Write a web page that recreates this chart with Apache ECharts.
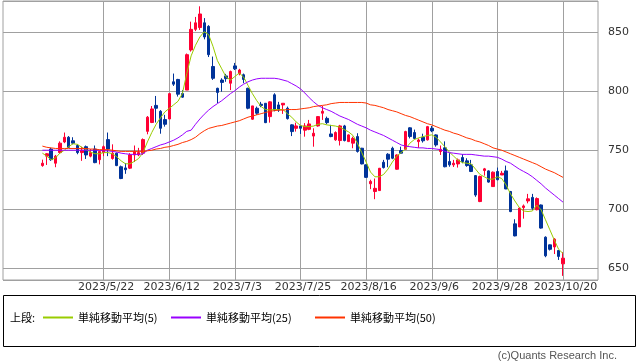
<!DOCTYPE html>
<html><head><meta charset="utf-8">
<script src="https://cdn.jsdelivr.net/npm/echarts@6/dist/echarts.min.js"></script>
<style>html,body{margin:0;padding:0;background:#fff}#c{width:638px;height:362px}</style>
</head><body><div id="c"></div>
<script>
const dates = ['2023/4/27','2023/4/28','2023/5/1','2023/5/2','2023/5/8','2023/5/9','2023/5/10','2023/5/11','2023/5/12','2023/5/15',
'2023/5/16','2023/5/17','2023/5/18','2023/5/19','2023/5/22','2023/5/23','2023/5/24','2023/5/25','2023/5/26','2023/5/29',
'2023/5/30','2023/5/31','2023/6/1','2023/6/2','2023/6/5','2023/6/6','2023/6/7','2023/6/8','2023/6/9','2023/6/12',
'2023/6/13','2023/6/14','2023/6/15','2023/6/16','2023/6/19','2023/6/20','2023/6/21','2023/6/22','2023/6/23','2023/6/26',
'2023/6/27','2023/6/28','2023/6/29','2023/6/30','2023/7/3','2023/7/4','2023/7/5','2023/7/6','2023/7/7','2023/7/10',
'2023/7/11','2023/7/12','2023/7/13','2023/7/14','2023/7/18','2023/7/19','2023/7/20','2023/7/21','2023/7/24','2023/7/25',
'2023/7/26','2023/7/27','2023/7/28','2023/7/31','2023/8/1','2023/8/2','2023/8/3','2023/8/4','2023/8/7','2023/8/8',
'2023/8/9','2023/8/10','2023/8/14','2023/8/15','2023/8/16','2023/8/17','2023/8/18','2023/8/21','2023/8/22','2023/8/23',
'2023/8/24','2023/8/25','2023/8/28','2023/8/29','2023/8/30','2023/8/31','2023/9/1','2023/9/4','2023/9/5','2023/9/6',
'2023/9/7','2023/9/8','2023/9/11','2023/9/12','2023/9/13','2023/9/14','2023/9/15','2023/9/19','2023/9/20','2023/9/21',
'2023/9/22','2023/9/25','2023/9/26','2023/9/27','2023/9/28','2023/9/29','2023/10/2','2023/10/3','2023/10/4','2023/10/5',
'2023/10/6','2023/10/10','2023/10/11','2023/10/12','2023/10/13','2023/10/16','2023/10/17','2023/10/18','2023/10/19','2023/10/20'];

const open = [737,745,751,739,748,757,761,758,754,748,
753,745,751,742,748,759,743,747.5,736,735,
734.8,746,746,747.5,766,773.5,788,783,776,776.5,
808,810,798,801,835,852.5,854,858,855,821,
802.5,809.5,813,806.8,821.5,814.7,814,802.5,776.3,785.6,
789,789.8,778.5,797,788.4,788.4,785.6,771.5,768.6,770.6,
767,767.7,762,770.6,781.4,777,763.8,758.8,758.2,770.6,
757.3,756,761.6,751.7,737.6,721.6,715,715.8,739.8,746.6,
751.7,733.9,749.7,750.8,769,765,757.3,761,758.8,768.6,
763,748.9,752,740.4,737.6,738.4,743.8,741,737.6,728.5,
706.5,732.8,732.5,719.2,732,729,732.5,715,687.6,685,
701.4,707,710,699.6,703.6,676.3,669.8,668,665,653.7];

const close = [739,747,742,745,756,761,752.5,756,748,750,
746,748,739.5,749,753,751,747.5,737,726,733.5,
746,749,748,759,778,785,785.6,768.6,772,798,
806,797.5,795,831,852.5,858,865.5,846,831,811,
799,807.5,810.7,816.7,819,818,810,785.6,787.6,781.4,
788,773.4,791,784,784,789.8,776.8,765.8,770.6,768.6,
770.6,772.3,764.4,778.5,783,773.4,761.6,765,770.6,758.2,
763,760,749,738.4,727,723.6,717.7,734.7,735.3,742.4,
743.2,746,747.5,765.8,761.6,760,758.7,758,770,766.4,
754.5,750.8,736,737.6,739,741.8,740.4,737,732,712,
727.7,734.2,723,731.4,725,730.5,717.2,698,677.4,701,
702.8,708.8,700.8,709,684,660.5,666,674.6,660,658.5];

const low = [736,737.5,741,735.6,747,756,752,755,746.6,741,
742.6,744,739,738,745,745,742,736.5,725.5,730,
734,740,745,746,763.5,773,773.5,764,770,776.5,
804.5,795.5,794.5,801,833.6,851,852,844,829,809.6,
790,799.6,808,801,818,813.5,806.8,784.7,775.7,780,
786.5,773,773.4,783,782.5,780.8,776,762,765.8,763.8,
761.5,767,753,770,775.7,772,761,758,754,757.5,
757,751.7,748,738,726.5,717,708.5,715.5,734.5,735.6,
742.4,733.5,747,750.8,760,759.3,752,756.5,758.2,765.3,
753,746,735.5,736,735.8,735.3,739,736,731.5,710.5,
706,728.5,722.5,719,724.5,729,717,697.5,677,685,
692,705,699.5,699,683.5,659.3,665,662,657,643.5];

const high = [742,747.5,752,746,757.5,765,762,761,755,753,
754,751,754,749.5,754,765,755,748,737,739,
747.5,754,752,760,779,787.5,796,784,780,798,
815,810.5,801,832,859,863,872,862,856,829.4,
803,811,814.7,817.5,824,819,815,803,787.6,787,
791,790,791.5,798.3,791,790,787,772,773.4,771,
773,775.7,768.6,779,787.6,778.5,771.5,766,771.5,771.5,
763.5,761.5,764.4,752,738,725,726,735,741.8,747.5,
753,746.5,753,766.5,769.5,767.5,760,764,770.6,770.6,
763.5,754,757.5,747.5,741.8,743,746.6,743.2,741.8,729,
728.5,735,733,732,735.3,732.5,737,715.5,691.5,701.5,
704,713,713,710,704,677,670,675.5,665.5,663.6];

const ma5 = [747.5,745,742,743.5,747.5,750,753,755.5,755,752.5,
750.5,748.5,747,747,748,748,747,744.5,741,738.5,
738.5,740.5,743,748,757,765,772,777.5,782.5,785.5,
788.5,791.5,798,815,830,839,846,850.5,848,838,
826,819,812,809.5,812.5,815.5,812,805,798,792,
787,784.5,784,784.5,784.5,784.5,781,778,774,771,
770,770,770.5,772,772.5,771.5,771,770.5,769.5,767.5,
765.5,762.5,756,748,740,731.5,727.5,727.5,729.5,734,
740,745,748,751,756,759,760.5,761.5,762.5,763,
761,757,753,748.5,745,741.5,739.5,739,738.5,734,
729.5,727.5,725.5,725.5,727.5,726,720.5,713,707,701.5,
698.5,698,698.5,703.5,699.5,691,682.5,674,666,662.5];

const ma25 = [750,750,750,750,750,750,750,750,750,750,
750,750,750,750,749.5,749.5,749,748.5,747.5,747,
746.5,746.5,746.5,747,750,751.5,753,754.5,755.5,757,
758.5,760.5,763,766,767,772,776.5,780.5,784,787,
789.5,792,795,798,800.5,803.5,806,808,809.5,810.5,
811,811,811,811,810.5,809.5,808.5,806.5,804.5,802,
798.5,794.5,791,788,786,784.5,783,781,779,777.5,
776,774,772,770.5,769,767,765.5,764,762.5,760.5,
758.5,756.5,754.5,753.5,753,752.5,752,752,751.5,751.5,
751,750.5,749,748,747.5,747,746.5,746.5,746.5,746,
745.5,745,745,744.5,744,742.5,740.5,739,736.5,734,
732,730,727.5,724.5,721.5,718,715,712,709,706];

const ma50 = [753.5,752.5,752,751.5,751.5,751.5,751.5,751.5,751.5,751.5,
751.5,751,751,750.5,750.5,750.5,750,749.5,749,749,
749,749,749,749,749.5,750,751,751.5,752.5,753,
754,755,756.5,757.5,759,761,764,766.5,768.5,769.5,
770.5,771,772,773,774,775,776.5,778,779,780,
781,782,783,783.5,784,784,784.5,784.5,784.5,785,
785.5,786,787,787.5,788,788.5,789.5,790,790.5,790.5,
790.5,790.5,790.5,790.5,790,788.5,788,787,786,784.5,
783.5,782.5,781,779.5,778.5,777,775.5,774,772.5,771.5,
770,768.5,767,766,764.5,763.5,762,760.5,759.5,758,
757,755.5,754,752,751,750,748.5,747,745.5,744,
742.5,741,739.5,738,736,734,732.5,731,729,727];

const labelDates = ['2023/5/22','2023/6/12','2023/7/3','2023/7/25','2023/8/16','2023/9/6','2023/9/28','2023/10/20'];
const seriesNames = ['単純移動平均(5)','単純移動平均(25)','単純移動平均(50)'];
const lineColors = ['#99cc00','#9900ff','#ff3300'];

const PAD_L = 9, PAD_R = 8;
const cats = [];
for (let i = 0; i < PAD_L; i++) cats.push('L' + i);
dates.forEach(d => cats.push(d));
for (let i = 0; i < PAD_R; i++) cats.push('R' + i);

const candleData = dates.map((d, i) => [d, open[i], close[i], low[i], high[i]]);
const toLine = arr => dates.map((d, i) => [d, arr[i]]);
const isLabel = (i, v) => labelDates.indexOf(v) >= 0;

const chart = echarts.init(document.getElementById('c'), null, {renderer: 'canvas'});
const legendBase = (name, left, color) => ({
  data: [name], left: left, top: 312, padding: 0, icon: 'rect', itemWidth: 30, itemHeight: 2,
  itemStyle: {color: color},
  selectedMode: false, textStyle: {fontFamily: '"Noto Sans CJK JP"', fontSize: 11, color: '#000'}
});

chart.setOption({
  animation: false,
  backgroundColor: '#fff',
  grid: {left: 3, top: 1, width: 595, height: 279, show: true, borderColor: '#a0a0a0', borderWidth: 1},
  xAxis: {
    type: 'category', data: cats, boundaryGap: false,
    axisLine: {show: false}, axisTick: {show: false},
    axisLabel: {interval: isLabel, color: '#333', fontFamily: 'DejaVu Sans', fontSize: 11, margin: 2, padding: [0, 0, 0, 5]},
    splitLine: {show: true, interval: isLabel, lineStyle: {color: '#a0a0a0', width: 1}}
  },
  yAxis: {
    type: 'value', position: 'right', min: 640, max: 876.5,
    axisLine: {show: false}, axisTick: {show: false},
    axisLabel: {color: '#333', fontFamily: 'DejaVu Sans', fontSize: 11, margin: 10,
      formatter: v => (Math.abs(v % 50) < 1e-6 ? String(v) : '')},
    splitLine: {show: true, lineStyle: {color: '#a0a0a0', width: 1}}
  },
  legend: [legendBase(seriesNames[0], 43, lineColors[0]), legendBase(seriesNames[1], 171, lineColors[1]), legendBase(seriesNames[2], 315, lineColors[2])],
  graphic: [
    {type: 'rect', shape: {x: 3.5, y: 295.5, width: 632, height: 51}, style: {fill: 'none', stroke: '#000', lineWidth: 1}},
    {type: 'text', x: 10, y: 318, style: {text: '上段:', fill: '#000', font: '11px "Noto Sans CJK JP"', verticalAlign: 'middle'}},
    {type: 'text', x: 617, y: 356, style: {text: '(c)Quants Research Inc.', fill: '#555', font: '11px "Liberation Sans"', align: 'right', verticalAlign: 'middle'}}
  ],
  series: [
    {type: 'candlestick', data: candleData, encode: {x: 0, y: [1, 2, 3, 4]}, barWidth: 3,
      itemStyle: {color: '#ff0033', color0: '#003399', borderColor: '#ff0033', borderColor0: '#003399', borderWidth: 1}},
    {type: 'line', name: seriesNames[0], data: toLine(ma5), symbol: 'none', color: lineColors[0], lineStyle: {color: lineColors[0], width: 1}, z: 3},
    {type: 'line', name: seriesNames[1], data: toLine(ma25), symbol: 'none', color: lineColors[1], lineStyle: {color: lineColors[1], width: 1}, z: 3},
    {type: 'line', name: seriesNames[2], data: toLine(ma50), symbol: 'none', color: lineColors[2], lineStyle: {color: lineColors[2], width: 1}, z: 3}
  ]
});
</script></body></html>
